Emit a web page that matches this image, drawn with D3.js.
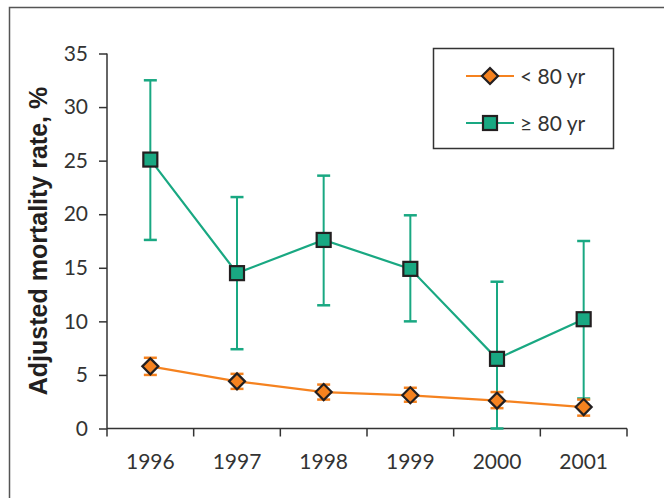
<!DOCTYPE html>
<html><head><meta charset="utf-8">
<script src="https://cdn.jsdelivr.net/npm/d3@7"></script>
<style>body{margin:0;background:#fff}svg{display:block}</style>
</head><body>
<svg id="c" width="664" height="498"></svg>
<script>
const years = ["1996","1997","1998","1999","2000","2001"];
const under80 = [5.8, 4.4, 3.4, 3.1, 2.6, 2.0];
const under80Low = [5.0, 3.7, 2.7, 2.5, 1.9, 1.2];
const under80High = [6.6, 5.1, 4.1, 3.8, 3.4, 2.7];
const over80 = [25.1, 14.5, 17.6, 14.9, 6.5, 10.2];
const over80Low = [17.6, 7.4, 11.5, 10.0, 0.0, 2.8];
const over80High = [32.5, 21.6, 23.6, 19.9, 13.7, 17.5];
const yTicks = [0,5,10,15,20,25,30,35];
const seriesNames = ["< 80 yr", "\u2265 80 yr"];

const ORANGE = "#f5821f", GREEN = "#19a882", DARK = "#231f20", AX = "#333";
const FONT = "Lato, 'Open Sans', sans-serif";
const svg = d3.select("#c");

// frame
svg.append("path").attr("d","M9.5,498 V7.5 H664").attr("fill","none").attr("stroke","#555").attr("stroke-width",1.5);

const L=107, R=627, T=53.5, B=428.5;
const x = d3.scaleBand().domain(years).range([L,R]).padding(0);
const y = d3.scaleLinear().domain([0,35]).range([B,T]);
const cx = d => x(d)+x.bandwidth()/2;

// axes
const ya = svg.append("g").attr("transform",`translate(${L},0)`)
  .call(d3.axisLeft(y).tickValues(yTicks).tickSize(8).tickPadding(11));
const xa = svg.append("g").attr("transform",`translate(0,${B})`)
  .call(d3.axisBottom(x).tickSize(0).tickPadding(26));
const edges = years.map(d=>x(d)).concat([R]);
xa.selectAll(".edge").data(edges).enter().append("line")
  .attr("x1",d=>d).attr("x2",d=>d).attr("y1",0).attr("y2",8).attr("stroke",AX).attr("stroke-width",1.5);
[ya,xa].forEach(g=>{
  g.select(".domain").attr("stroke",AX).attr("stroke-width",1.5);
  g.selectAll(".tick line").attr("stroke",AX).attr("stroke-width",1.5);
  g.selectAll("text").attr("font-family",FONT).attr("font-size",21).attr("fill","#333");
});
xa.select(".domain").attr("d",`M${L},0H${R}`);
ya.select(".domain").attr("d",`M0,${B}V${T}`);

// y label
svg.append("text").attr("transform",`translate(47,241) rotate(-90)`)
  .attr("text-anchor","middle").attr("font-family","'Liberation Sans', Arial, sans-serif")
  .attr("font-weight","bold").attr("font-size",25).attr("fill","#231f20")
  .text("Adjusted mortality rate, %");

function drawSeries(vals, lo, hi, color, shape){
  const g = svg.append("g");
  const capW = 6.5;
  years.forEach((yr,i)=>{
    const X = cx(yr);
    g.append("line").attr("x1",X).attr("x2",X).attr("y1",y(lo[i])).attr("y2",y(hi[i])).attr("stroke",color).attr("stroke-width",2);
    [lo[i],hi[i]].forEach(v=>g.append("line").attr("x1",X-capW).attr("x2",X+capW).attr("y1",y(v)).attr("y2",y(v)).attr("stroke",color).attr("stroke-width",2.5));
  });
  g.append("path").datum(vals).attr("d",d3.line().x((d,i)=>cx(years[i])).y(d=>y(d)))
    .attr("fill","none").attr("stroke",color).attr("stroke-width",2.2);
  years.forEach((yr,i)=>marker(g, cx(yr), y(vals[i]), color, shape));
}
function marker(g, X, Y, color, shape){
  if(shape==="sq"){
    g.append("rect").attr("x",X-7).attr("y",Y-7).attr("width",14).attr("height",14)
      .attr("fill",color).attr("stroke",DARK).attr("stroke-width",2.2);
  } else {
    g.append("path").attr("d",`M${X},${Y-8}L${X+8},${Y}L${X},${Y+8}L${X-8},${Y}Z`)
      .attr("fill",color).attr("stroke",DARK).attr("stroke-width",2.2);
  }
}
drawSeries(over80, over80Low, over80High, GREEN, "sq");
drawSeries(under80, under80Low, under80High, ORANGE, "dm");

// legend
const lg = svg.append("g");
lg.append("rect").attr("x",433.5).attr("y",48.5).attr("width",180).attr("height",100)
  .attr("fill","#fff").attr("stroke","#333").attr("stroke-width",1.5);
[[ORANGE,"dm",76],[GREEN,"sq",123]].forEach(([c,s,ly],i)=>{
  lg.append("line").attr("x1",466).attr("x2",514).attr("y1",ly).attr("y2",ly).attr("stroke",c).attr("stroke-width",2.2);
  marker(lg,490,ly,c,s);
  lg.append("text").attr("x",520).attr("y",ly+7.5).attr("font-family",FONT)
    .attr("font-size",21).attr("fill","#333").text(seriesNames[i]);
});
</script>
</body></html>
